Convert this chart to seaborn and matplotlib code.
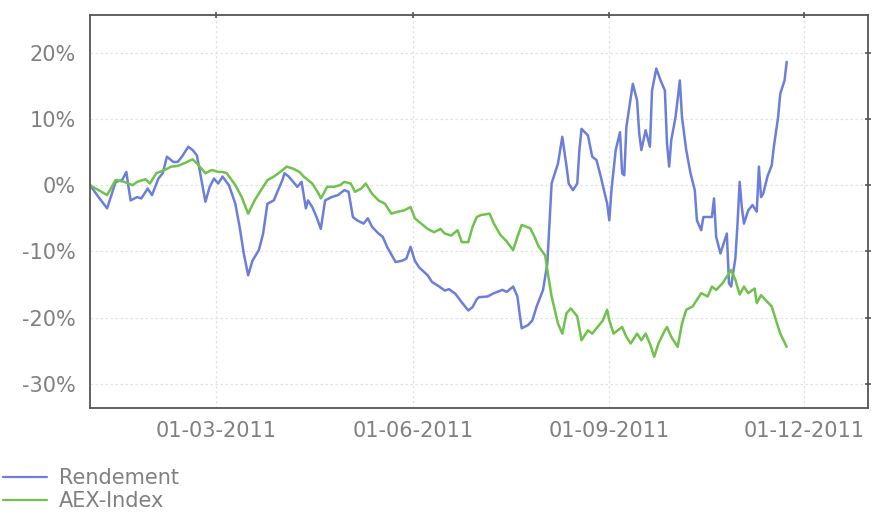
import matplotlib
matplotlib.use("Agg")
import matplotlib.pyplot as plt
import matplotlib.dates as mdates
from matplotlib.ticker import FixedLocator, MultipleLocator, FuncFormatter, AutoMinorLocator
import seaborn as sns
import pandas as pd

series_names = ["Rendement", "AEX-Index"]
series_colors = ["#6b7fd9", "#6fc24b"]

rend_dates = [
    "2011-01-01", "2011-01-05", "2011-01-09", "2011-01-13", "2011-01-16", "2011-01-18", "2011-01-19",
    "2011-01-20", "2011-01-23", "2011-01-25", "2011-01-28", "2011-01-29", "2011-01-30",
    "2011-02-02", "2011-02-04", "2011-02-06", "2011-02-09", "2011-02-11", "2011-02-13", "2011-02-16",
    "2011-02-18", "2011-02-20", "2011-02-21", "2011-02-23", "2011-02-24", "2011-02-26", "2011-02-28",
    "2011-03-02", "2011-03-04", "2011-03-07", "2011-03-10", "2011-03-12", "2011-03-14", "2011-03-16",
    "2011-03-18", "2011-03-21", "2011-03-23", "2011-03-25", "2011-03-28", "2011-03-30",
    "2011-04-01", "2011-04-02", "2011-04-04", "2011-04-08", "2011-04-10", "2011-04-12", "2011-04-13",
    "2011-04-15", "2011-04-17", "2011-04-19", "2011-04-21", "2011-04-24", "2011-04-27", "2011-04-30",
    "2011-05-02", "2011-05-04", "2011-05-06", "2011-05-09", "2011-05-11", "2011-05-13", "2011-05-16",
    "2011-05-18", "2011-05-20", "2011-05-24", "2011-05-27", "2011-05-29", "2011-05-31",
    "2011-06-02", "2011-06-04", "2011-06-08", "2011-06-10", "2011-06-13", "2011-06-16", "2011-06-18",
    "2011-06-21", "2011-06-24", "2011-06-27", "2011-06-29",
    "2011-07-01", "2011-07-02", "2011-07-06", "2011-07-09", "2011-07-13", "2011-07-15", "2011-07-18",
    "2011-07-20", "2011-07-21", "2011-07-22", "2011-07-25", "2011-07-27", "2011-07-29",
    "2011-08-01", "2011-08-03", "2011-08-04", "2011-08-05", "2011-08-08", "2011-08-10", "2011-08-12",
    "2011-08-13", "2011-08-15", "2011-08-17", "2011-08-18", "2011-08-19", "2011-08-22", "2011-08-24",
    "2011-08-26", "2011-08-28", "2011-08-31",
    "2011-09-01", "2011-09-02", "2011-09-04", "2011-09-06", "2011-09-07", "2011-09-08", "2011-09-09",
    "2011-09-12", "2011-09-14", "2011-09-15", "2011-09-16", "2011-09-18", "2011-09-20", "2011-09-21",
    "2011-09-23", "2011-09-25", "2011-09-27", "2011-09-28", "2011-09-29", "2011-09-30",
    "2011-10-02", "2011-10-04", "2011-10-05", "2011-10-07", "2011-10-09", "2011-10-11", "2011-10-12",
    "2011-10-14", "2011-10-15", "2011-10-17", "2011-10-19", "2011-10-20", "2011-10-21", "2011-10-23",
    "2011-10-25", "2011-10-26", "2011-10-27", "2011-10-28", "2011-10-30", "2011-10-31",
    "2011-11-01", "2011-11-02", "2011-11-03", "2011-11-05", "2011-11-07", "2011-11-09", "2011-11-10",
    "2011-11-11", "2011-11-12", "2011-11-14", "2011-11-16", "2011-11-17", "2011-11-19", "2011-11-20",
    "2011-11-22", "2011-11-23",
]
rend_values = [
    0.0, -1.8, -3.5, 0.5, 0.75, 2.0, -0.25,
    -2.3, -1.8, -2.0, -0.5, -1.0, -1.5,
    1.0, 1.8, 4.3, 3.5, 3.5, 4.3, 5.8,
    5.3, 4.5, 2.8, -0.75, -2.5, -0.25, 1.0,
    0.25, 1.3, 0.0, -2.8, -6.3, -10.4, -13.6,
    -11.4, -9.8, -7.3, -2.8, -2.3, -0.75,
    0.75, 1.8, 1.3, -0.25, 0.5, -3.5, -2.3,
    -3.3, -4.8, -6.6, -2.3, -1.8, -1.5, -0.75,
    -1.0, -4.8, -5.3, -5.8, -5.0, -6.3, -7.3,
    -7.8, -9.3, -11.6, -11.4, -11.1, -9.3,
    -11.4, -12.4, -13.6, -14.6, -15.2, -15.9, -15.7,
    -16.4, -17.7, -18.9, -18.4,
    -17.2, -16.9, -16.8, -16.3, -15.8, -16.1, -15.3,
    -16.8, -19.3, -21.6, -21.1, -20.4, -18.3,
    -15.8, -11.8, -5.8, 0.25, 3.3, 7.3, 2.8,
    0.25, -0.75, 0.25, 5.3, 8.5, 7.5, 4.3,
    3.8, 1.3, -2.8,
    -5.3, -0.75, 5.3, 8.0, 1.8, 1.5, 8.8,
    15.3, 12.8, 7.8, 5.3, 8.3, 5.8, 14.3,
    17.6, 15.8, 14.3, 6.3, 2.8, 6.8,
    10.3, 15.8, 10.3, 5.3, 1.8, -0.75, -5.3,
    -6.8, -4.8, -4.8, -4.8, -2.0, -7.8, -10.3,
    -8.3, -7.3, -14.8, -15.3, -11.0, -5.8,
    0.5, -3.3, -5.8, -3.8, -3.0, -4.0, 2.8,
    -1.8, -1.3, 1.3, 3.0, 5.8, 10.3, 13.8,
    15.8, 18.6,
]

aex_dates = [
    "2011-01-01", "2011-01-09", "2011-01-13", "2011-01-17", "2011-01-21", "2011-01-23", "2011-01-27", "2011-01-29",
    "2011-02-01", "2011-02-05", "2011-02-08", "2011-02-11", "2011-02-14", "2011-02-18", "2011-02-20", "2011-02-24",
    "2011-02-27",
    "2011-03-02", "2011-03-04", "2011-03-06", "2011-03-10", "2011-03-13", "2011-03-16", "2011-03-19", "2011-03-22",
    "2011-03-25", "2011-03-28", "2011-03-31",
    "2011-04-03", "2011-04-06", "2011-04-09", "2011-04-11", "2011-04-15", "2011-04-18", "2011-04-19", "2011-04-22",
    "2011-04-25", "2011-04-28", "2011-04-30",
    "2011-05-03", "2011-05-05", "2011-05-08", "2011-05-10", "2011-05-13", "2011-05-16", "2011-05-19", "2011-05-22",
    "2011-05-25", "2011-05-28", "2011-05-31",
    "2011-06-02", "2011-06-05", "2011-06-08", "2011-06-11", "2011-06-14", "2011-06-16", "2011-06-19", "2011-06-22",
    "2011-06-24", "2011-06-27", "2011-06-29",
    "2011-07-01", "2011-07-03", "2011-07-07", "2011-07-09", "2011-07-12", "2011-07-15", "2011-07-18", "2011-07-20",
    "2011-07-22", "2011-07-26", "2011-07-28", "2011-07-30",
    "2011-08-02", "2011-08-03", "2011-08-05", "2011-08-08", "2011-08-10", "2011-08-12", "2011-08-14", "2011-08-17",
    "2011-08-19", "2011-08-22", "2011-08-24", "2011-08-26", "2011-08-29", "2011-08-31",
    "2011-09-01", "2011-09-03", "2011-09-07", "2011-09-09", "2011-09-11", "2011-09-14", "2011-09-16", "2011-09-18",
    "2011-09-20", "2011-09-22", "2011-09-24", "2011-09-27", "2011-09-28", "2011-09-30",
    "2011-10-03", "2011-10-05", "2011-10-07", "2011-10-10", "2011-10-12", "2011-10-14", "2011-10-17", "2011-10-19",
    "2011-10-21", "2011-10-24", "2011-10-26", "2011-10-28", "2011-10-30",
    "2011-11-01", "2011-11-03", "2011-11-05", "2011-11-08", "2011-11-09", "2011-11-11", "2011-11-13", "2011-11-16",
    "2011-11-18", "2011-11-20", "2011-11-23",
]
aex_values = [
    0.0, -1.5, 0.8, 0.5, 0.0, 0.5, 0.9, 0.25,
    1.8, 2.3, 2.8, 2.9, 3.3, 3.9, 3.3, 1.8,
    2.3,
    2.0, 2.0, 1.8, 0.0, -1.8, -4.3, -2.3, -0.75,
    0.75, 1.3, 2.0,
    2.8, 2.5, 2.0, 1.3, 0.25, -1.3, -2.0, -0.25,
    -0.25, 0.0, 0.5,
    0.25, -1.0, -0.5, 0.25, -1.3, -2.3, -2.8, -4.3,
    -4.0, -3.8, -3.3,
    -5.0, -5.8, -6.6, -7.1, -6.6, -7.3, -7.6, -6.8,
    -8.6, -8.6, -6.3,
    -4.8, -4.5, -4.3, -5.8, -7.5, -8.5, -9.8, -7.8,
    -6.0, -6.5, -7.8, -9.3,
    -10.6, -12.8, -16.8, -20.9, -22.4, -19.3, -18.6, -19.8,
    -23.4, -21.9, -22.4, -21.6, -20.4, -18.8,
    -20.4, -22.4, -21.4, -22.9, -23.9, -22.4, -23.4, -22.4,
    -23.9, -25.9, -23.9, -21.9, -21.4, -22.9,
    -24.4, -20.9, -18.8, -18.3, -17.3, -16.3, -16.8, -15.3,
    -15.8, -14.8, -13.8, -12.8, -14.3,
    -16.5, -15.3, -16.3, -15.6, -17.8, -16.6, -17.3, -18.3,
    -20.4, -22.4, -24.4,
]

x_major_ticks = ["2011-03-01", "2011-06-01", "2011-09-01", "2011-12-01"]
x_limits = ["2011-01-01", "2011-12-31"]
y_major_ticks = [-30, -20, -10, 0, 10, 20]
y_limits = (-33.6, 25.7)

df = pd.concat([
    pd.DataFrame({"date": pd.to_datetime(rend_dates), "value": rend_values, "series": series_names[0]}),
    pd.DataFrame({"date": pd.to_datetime(aex_dates), "value": aex_values, "series": series_names[1]}),
], ignore_index=True)

sns.set_style("white")
plt.rcParams["font.family"] = ["DejaVu Sans"]
plt.rcParams["axes.unicode_minus"] = False

label_color = "#808080"
spine_color = "#555555"

fig = plt.figure(figsize=(8.74, 5.13), dpi=100)
ax = fig.add_axes([0.103, 0.205, 0.890, 0.766])

sns.lineplot(data=df, x="date", y="value", hue="series", hue_order=series_names,
             palette=dict(zip(series_names, series_colors)), linewidth=1.8, ax=ax,
             estimator=None, sort=True)

ax.set_xlim(pd.to_datetime(x_limits[0]), pd.to_datetime(x_limits[1]))
ax.set_ylim(*y_limits)

ax.xaxis.set_major_locator(FixedLocator(mdates.date2num(pd.to_datetime(x_major_ticks))))
ax.xaxis.set_major_formatter(mdates.DateFormatter("%d-%m-%Y"))
ax.xaxis.set_minor_locator(AutoMinorLocator(4))
ax.yaxis.set_major_locator(FixedLocator(y_major_ticks))
ax.yaxis.set_minor_locator(MultipleLocator(2))
ax.yaxis.set_major_formatter(FuncFormatter(lambda v, p: f"{int(round(v))}%"))

ax.grid(True, which="major", color="#e3e3e3", linestyle=(0, (2, 2)), linewidth=0.9)
ax.set_axisbelow(True)

for s in ax.spines.values():
    s.set_visible(True)
    s.set_color(spine_color)
    s.set_linewidth(1.3)

ax.tick_params(axis="both", which="major", direction="inout", length=5, width=1.2,
               color=spine_color, labelcolor=label_color, labelsize=15,
               top=True, right=True)
ax.tick_params(axis="both", which="minor", direction="inout", length=3, width=1.0,
               color=spine_color)
ax.tick_params(axis="x", which="major", pad=7)
ax.tick_params(axis="y", which="major", pad=8)

ax.set_xlabel("")
ax.set_ylabel("")

handles, labels = ax.get_legend_handles_labels()
ax.get_legend().remove()
leg = fig.legend(handles, labels, loc="upper left", bbox_to_anchor=(0.004, 0.087),
                 bbox_transform=fig.transFigure, frameon=False, fontsize=15,
                 handlelength=2.1, handletextpad=0.55, labelspacing=0.12,
                 borderpad=0, borderaxespad=0)
for t in leg.get_texts():
    t.set_color(label_color)
for h in leg.get_lines():
    h.set_linewidth(1.6)

fig.savefig("out.png", dpi=100)
